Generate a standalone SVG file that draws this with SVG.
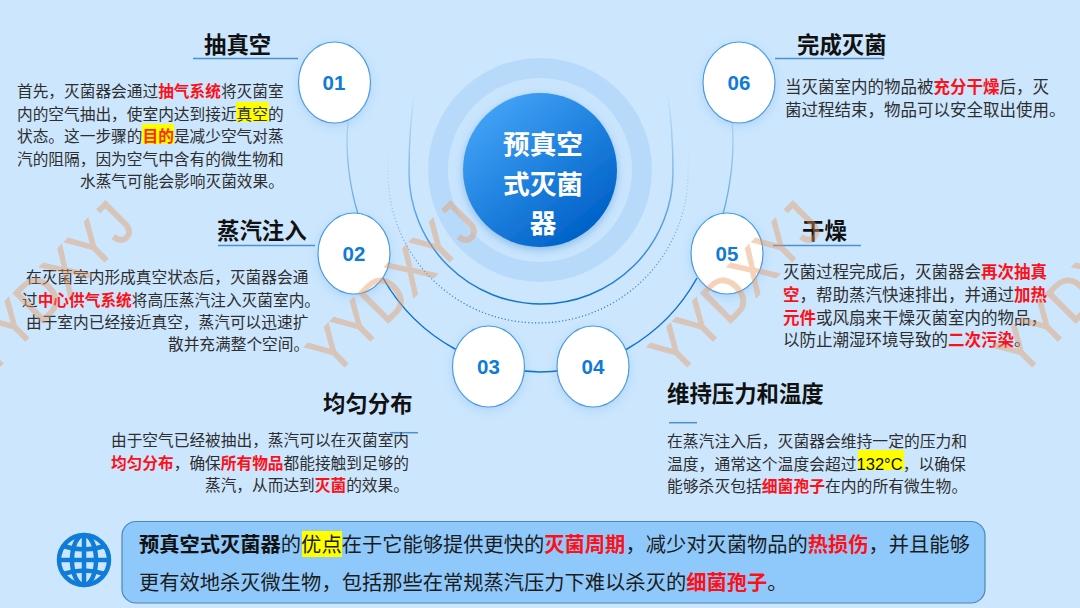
<svg xmlns="http://www.w3.org/2000/svg" width="1080" height="608" viewBox="0 0 1080 608">
<style>
text{font-family:"Noto Sans CJK SC","Liberation Sans",sans-serif}
.b{font-size:15.7px;fill:#2e2e2e}
.b4{font-size:15.8px;fill:#2e2e2e}
.b2{font-size:16.5px;fill:#2e2e2e}
.big{font-size:20.27px;fill:#1c1c1c}
.t{font-size:22.4px;font-weight:700;fill:#111}
.r{font-weight:700;fill:#ff1018}
.k{font-weight:700;fill:#111}
.hl{fill:#ffff00}
.rf{font-weight:700;fill:#ff2a00}
.lat{font-family:"Liberation Sans",sans-serif;font-size:16.5px;fill:#111}
.u{stroke:#4d90cf;stroke-width:1.5;fill:none}
.n{fill:#fff;stroke:#4b9bdf;stroke-width:1.2;filter:url(#sh)}
.num{font-family:"Liberation Sans",sans-serif;font-size:20.5px;font-weight:700;fill:#0f7bd6;text-anchor:middle}
.c{font-size:26.7px;font-weight:700;fill:#fff;text-anchor:middle}
.wm{font-family:"Liberation Sans",sans-serif;font-size:62px;fill:#e9995f;stroke:#e9995f;stroke-width:1;opacity:.42}
</style>
<defs>
<linearGradient id="core" x1="0.15" y1="0.1" x2="0.8" y2="0.9"><stop offset="0" stop-color="#41a2f6"/><stop offset="1" stop-color="#0062c8"/></linearGradient>
<linearGradient id="fade" gradientUnits="userSpaceOnUse" x1="0" y1="90" x2="0" y2="300"><stop offset="0" stop-color="#1f7fd6" stop-opacity="0"/><stop offset=".5" stop-color="#1f7fd6" stop-opacity=".55"/><stop offset="1" stop-color="#1273cc"/></linearGradient>
<linearGradient id="fade2" gradientUnits="userSpaceOnUse" x1="0" y1="145" x2="0" y2="300"><stop offset="0" stop-color="#2a7fc8" stop-opacity="0"/><stop offset=".5" stop-color="#2a7fc8" stop-opacity=".45"/><stop offset="1" stop-color="#2a7fc8"/></linearGradient>
<linearGradient id="fade3" gradientUnits="userSpaceOnUse" x1="0" y1="120" x2="0" y2="215"><stop offset="0" stop-color="#4b9bdf" stop-opacity=".25"/><stop offset="1" stop-color="#4b9bdf" stop-opacity=".9"/></linearGradient>
<filter id="sh" x="-30%" y="-30%" width="160%" height="160%"><feDropShadow dx="0" dy="3" stdDeviation="5" flood-color="#3b8fdc" flood-opacity=".2"/></filter>
<filter id="sh2" x="-30%" y="-30%" width="160%" height="160%"><feDropShadow dx="0" dy="3" stdDeviation="4" flood-color="#0b5fb5" flood-opacity=".3"/></filter>
</defs>
<rect width="1080" height="608" fill="#cce6fe"/>

<g id="connectors" fill="none">
<path d="M348 122C345 150 349 185 358 214" stroke="url(#fade3)" stroke-width="1.2"/>
<path d="M732 122C735 150 731 185 723 214" stroke="url(#fade3)" stroke-width="1.2"/>
<path d="M383 278A186 186 0 0 0 455 349A186 186 0 0 0 540 372A186 186 0 0 0 627 349A186 186 0 0 0 697 278" stroke="#1273cc" stroke-width="1.5"/>
<path d="M415 90C410 120 409 150 409 172A132 132 0 0 0 673 172C673 150 672 120 667 90" stroke="url(#fade)" stroke-width="1.5"/>
<path d="M387 147Q388 160 388 173A150 150 0 0 0 688 173Q688 160 689 147" stroke="url(#fade2)" stroke-width="1.2" stroke-dasharray="1.2 2.2"/>
</g>

<g id="hub">
<circle cx="540" cy="170" r="112" fill="#b8dafa"/>
<circle cx="540" cy="170" r="92" fill="#c9e5fe"/>
<circle cx="540" cy="170" r="77" fill="url(#core)" filter="url(#sh2)"/>
<text class="c" x="543" y="154">预真空</text>
<text class="c" x="543" y="193.500">式灭菌</text>
<text class="c" x="543" y="233">器</text>
</g>

<g id="node-01">
<ellipse class="n" cx="334.500" cy="82.500" rx="36" ry="40.500"/>
<text class="num" x="334" y="90">01</text>
<text class="t" x="204" y="53">抽真空</text>
<path class="u" d="M193 58.500H298"/>
<rect class="hl" x="236" y="102" width="32.500" height="20"/>
<rect class="hl" x="142" y="124" width="32" height="20"/>
<text class="b" x="17" y="97">首先，灭菌器会通过<tspan class="r">抽气系统</tspan>将灭菌室</text>
<text class="b" x="17" y="119.500">内的空气抽出，使室内达到接近真空的</text>
<text class="b" x="17" y="142">状态。这一步骤的<tspan class="rf">目的</tspan>是减少空气对蒸</text>
<text class="b" x="17" y="164.500">汽的阻隔，因为空气中含有的微生物和</text>
<text class="b" x="80" y="187">水蒸气可能会影响灭菌效果。</text>
</g>

<g id="node-02">
<ellipse class="n" cx="354" cy="253.500" rx="36" ry="40.500"/>
<text class="num" x="354" y="261">02</text>
<text class="t" x="217" y="239">蒸汽注入</text>
<path class="u" d="M218 245.500H315"/>
<text class="b" x="26" y="283">在灭菌室内形成真空状态后，灭菌器会通</text>
<text class="b" x="22" y="305.500">过<tspan class="r">中心供气系统</tspan>将高压蒸汽注入灭菌室内。</text>
<text class="b" x="26" y="328">由于室内已经接近真空，蒸汽可以迅速扩</text>
<text class="b" x="168" y="350">散并充满整个空间。</text>
</g>

<g id="node-03">
<ellipse class="n" cx="488.500" cy="366.500" rx="36" ry="40.500"/>
<text class="num" x="488.500" y="374">03</text>
<text class="t" x="323" y="412">均匀分布</text>
<path class="u" d="M390 432.700H418"/>
<text class="b" x="111" y="446">由于空气已经被抽出，蒸汽可以在灭菌室内</text>
<text class="b" x="111" y="469"><tspan class="r">均匀分布</tspan>，确保<tspan class="r">所有物品</tspan>都能接触到足够的</text>
<text class="b" x="205" y="491">蒸汽，从而达到<tspan class="r">灭菌</tspan>的效果。</text>
</g>

<g id="node-04">
<ellipse class="n" cx="593" cy="366.500" rx="36" ry="40.500"/>
<text class="num" x="593" y="374">04</text>
<text class="t" x="667" y="402">维持压力和温度</text>
<path class="u" d="M669 422.700H697"/>
<rect class="hl" x="858" y="450" width="46" height="20"/>
<text class="b4" x="667" y="447">在蒸汽注入后，灭菌器会维持一定的压力和</text>
<text class="b4" x="667" y="469.500">温度，通常这个温度会超过<tspan class="lat">132°C</tspan>，以确保</text>
<text class="b4" x="667" y="492">能够杀灭包括<tspan class="r">细菌孢子</tspan>在内的所有微生物。</text>
</g>

<g id="node-05">
<ellipse class="n" cx="727" cy="253.500" rx="36" ry="40.500"/>
<text class="num" x="727" y="261">05</text>
<text class="t" x="802" y="239">干燥</text>
<path class="u" d="M773 245.500H861"/>
<text class="b2" x="783" y="278">灭菌过程完成后，灭菌器会<tspan class="r">再次抽真</tspan></text>
<text class="b2" x="783" y="301"><tspan class="r">空</tspan>，帮助蒸汽快速排出，并通过<tspan class="r">加热</tspan></text>
<text class="b2" x="783" y="324"><tspan class="r">元件</tspan>或风扇来干燥灭菌室内的物品，</text>
<text class="b2" x="783" y="346">以防止潮湿环境导致的<tspan class="r">二次污染</tspan>。</text>
</g>

<g id="node-06">
<ellipse class="n" cx="739" cy="82.500" rx="36" ry="40.500"/>
<text class="num" x="739" y="90">06</text>
<text class="t" x="797" y="53">完成灭菌</text>
<path class="u" d="M775 58.500H884"/>
<text class="b2" x="785" y="93">当灭菌室内的物品被<tspan class="r">充分干燥</tspan>后，灭</text>
<text class="b2" x="785" y="115.500">菌过程结束，物品可以安全取出使用。</text>
</g>

<g id="summary">
<rect x="122" y="521.500" width="863" height="81.500" rx="14" fill="#8fc9fb" stroke="#4d86b8" stroke-width="1.2"/>
<rect class="hl" x="302" y="531" width="40" height="26"/>
<text class="big" x="139" y="552"><tspan class="k">预真空式灭菌器</tspan>的优点在于它能够提供更快的<tspan class="r">灭菌周期</tspan>，减少对灭菌物品的<tspan class="r">热损伤</tspan>，并且能够</text>
<text class="big" x="139" y="590">更有效地杀灭微生物，包括那些在常规蒸汽压力下难以杀灭的<tspan class="r">细菌孢子</tspan>。</text>
</g>

<g id="globe" fill="none" stroke="#0f7cd8" stroke-width="4.500">
<circle cx="84" cy="560" r="25"/>
<ellipse cx="84" cy="560" rx="12" ry="25"/>
<path d="M84 535V585M59 560H109M63 546Q84 553 105 546M63 574Q84 567 105 574"/>
</g>

<g id="watermarks">
<text class="wm" transform="translate(-11.500 378) rotate(-45) scale(.88 1)">YYDXYJ</text>
<text class="wm" transform="translate(333.500 378) rotate(-45) scale(.88 1)">YYDXYJ</text>
<text class="wm" transform="translate(676 378) rotate(-45) scale(.88 1)">YYDXYJ</text>
<text class="wm" transform="translate(1021 378) rotate(-45) scale(.88 1)">YYDXYJ</text>
</g>
</svg>
